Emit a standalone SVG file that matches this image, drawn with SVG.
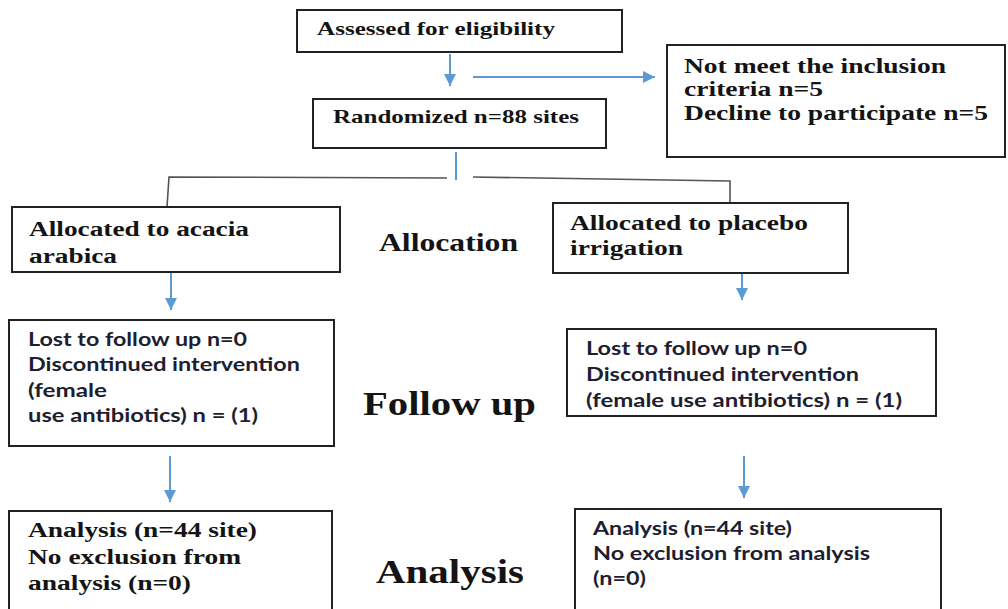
<svg xmlns="http://www.w3.org/2000/svg" width="1008" height="609" viewBox="0 0 1008 609">
<style>
.box{fill:#fff;stroke:#222;stroke-width:2}
.arr{stroke:#5b9bd5;stroke-width:2;fill:none}
.gl{stroke:#555;stroke-width:1.6;fill:none}
.t{font-family:"Liberation Serif","Times New Roman",serif;font-weight:bold;fill:#141414}
.s{font-family:Lato,"Liberation Sans",sans-serif;font-weight:bold;fill:#1e1e30;font-size:18.5px}
</style>
<defs>
<marker id="ah" viewBox="0 0 10 10" refX="10" refY="5" markerWidth="6" markerHeight="6" orient="auto" markerUnits="strokeWidth">
<path d="M0,0 L10,5 L0,10 z" fill="#5b9bd5"/>
</marker>
</defs>
<rect width="1008" height="609" fill="#fff"/>
<g id="connectors">
<line class="arr" x1="450" y1="54" x2="450" y2="86" marker-end="url(#ah)"/>
<line class="arr" x1="473" y1="77" x2="655" y2="77" marker-end="url(#ah)"/>
<line class="arr" x1="456" y1="152" x2="456" y2="180"/>
<polyline class="gl" points="167,207 169,177 447,178"/>
<polyline class="gl" points="473,177 730,181 730,203"/>
<line class="arr" x1="171" y1="273" x2="171" y2="310" marker-end="url(#ah)"/>
<line class="arr" x1="742" y1="258" x2="742" y2="300" marker-end="url(#ah)"/>
<line class="arr" x1="170" y1="456" x2="170" y2="502" marker-end="url(#ah)"/>
<line class="arr" x1="744" y1="456" x2="744" y2="498" marker-end="url(#ah)"/>
</g>
<g id="assessed">
<rect class="box" x="297" y="10" width="325" height="42"/>
<text class="t" transform="translate(317,35) scale(1.25,1)" font-size="18.5" textLength="190.4" lengthAdjust="spacingAndGlyphs">Assessed for eligibility</text>
</g>
<g id="excluded">
<rect class="box" x="667" y="45" width="338" height="112"/>
<text class="t" transform="translate(684,73) scale(1.25,1)" font-size="21.5" textLength="209.6" lengthAdjust="spacingAndGlyphs">Not meet the inclusion</text>
<text class="t" transform="translate(684,96) scale(1.25,1)" font-size="21.5" textLength="111.2" lengthAdjust="spacingAndGlyphs">criteria n=5</text>
<text class="t" transform="translate(684,120) scale(1.25,1)" font-size="21.5" textLength="243.2" lengthAdjust="spacingAndGlyphs">Decline to participate n=5</text>
</g>
<g id="randomized">
<rect class="box" x="313" y="99" width="293" height="49"/>
<text class="t" transform="translate(333,123) scale(1.25,1)" font-size="19" textLength="196.8" lengthAdjust="spacingAndGlyphs">Randomized n=88 sites</text>
</g>
<g id="alloc-acacia">
<rect class="box" x="12" y="207" width="328" height="65"/>
<text class="t" transform="translate(29,236) scale(1.25,1)" font-size="20" textLength="176" lengthAdjust="spacingAndGlyphs">Allocated to acacia</text>
<text class="t" transform="translate(29,263) scale(1.25,1)" font-size="20" textLength="70.4" lengthAdjust="spacingAndGlyphs">arabica</text>
</g>
<g id="alloc-placebo">
<rect class="box" x="553" y="203" width="295" height="70"/>
<text class="t" transform="translate(570,230) scale(1.25,1)" font-size="20" textLength="190.4" lengthAdjust="spacingAndGlyphs">Allocated to placebo</text>
<text class="t" transform="translate(570,255) scale(1.25,1)" font-size="20" textLength="90.4" lengthAdjust="spacingAndGlyphs">irrigation</text>
</g>
<g id="label-allocation">
<text class="t" transform="translate(379,251) scale(1.25,1)" font-size="25" textLength="111.2" lengthAdjust="spacingAndGlyphs">Allocation</text>
</g>
<g id="followup-left">
<rect class="box" x="9" y="320" width="325" height="126"/>
<text class="s" x="28" y="346" textLength="219" lengthAdjust="spacingAndGlyphs">Lost to follow up n=0</text>
<text class="s" x="28" y="371" textLength="272" lengthAdjust="spacingAndGlyphs">Discontinued intervention</text>
<text class="s" x="28" y="397" textLength="79" lengthAdjust="spacingAndGlyphs">(female</text>
<text class="s" x="28" y="422" textLength="230" lengthAdjust="spacingAndGlyphs">use antibiotics) n = (1)</text>
</g>
<g id="label-followup">
<text class="t" transform="translate(363,415) scale(1.25,1)" font-size="33" textLength="138.4" lengthAdjust="spacingAndGlyphs">Follow up</text>
</g>
<g id="followup-right">
<rect class="box" x="567" y="329" width="369" height="87"/>
<text class="s" x="586" y="355" textLength="221" lengthAdjust="spacingAndGlyphs">Lost to follow up n=0</text>
<text class="s" x="586" y="381" textLength="273" lengthAdjust="spacingAndGlyphs">Discontinued intervention</text>
<text class="s" x="586" y="407" textLength="316" lengthAdjust="spacingAndGlyphs">(female use antibiotics) n = (1)</text>
</g>
<g id="analysis-left">
<rect class="box" x="9" y="511" width="323" height="110"/>
<text class="t" transform="translate(28,537) scale(1.25,1)" font-size="20" textLength="183.2" lengthAdjust="spacingAndGlyphs">Analysis (n=44 site)</text>
<text class="t" transform="translate(28,564) scale(1.25,1)" font-size="20" textLength="170.4" lengthAdjust="spacingAndGlyphs">No exclusion from</text>
<text class="t" transform="translate(28,590) scale(1.25,1)" font-size="20" textLength="130.4" lengthAdjust="spacingAndGlyphs">analysis (n=0)</text>
</g>
<g id="label-analysis">
<text class="t" transform="translate(376,583) scale(1.25,1)" font-size="33" textLength="118.4" lengthAdjust="spacingAndGlyphs">Analysis</text>
</g>
<g id="analysis-right">
<rect class="box" x="575" y="509" width="366" height="112"/>
<text class="s" x="593" y="535" textLength="199" lengthAdjust="spacingAndGlyphs">Analysis (n=44 site)</text>
<text class="s" x="593" y="560" textLength="277" lengthAdjust="spacingAndGlyphs">No exclusion from analysis</text>
<text class="s" x="593" y="585" textLength="53" lengthAdjust="spacingAndGlyphs">(n=0)</text>
</g>
</svg>
